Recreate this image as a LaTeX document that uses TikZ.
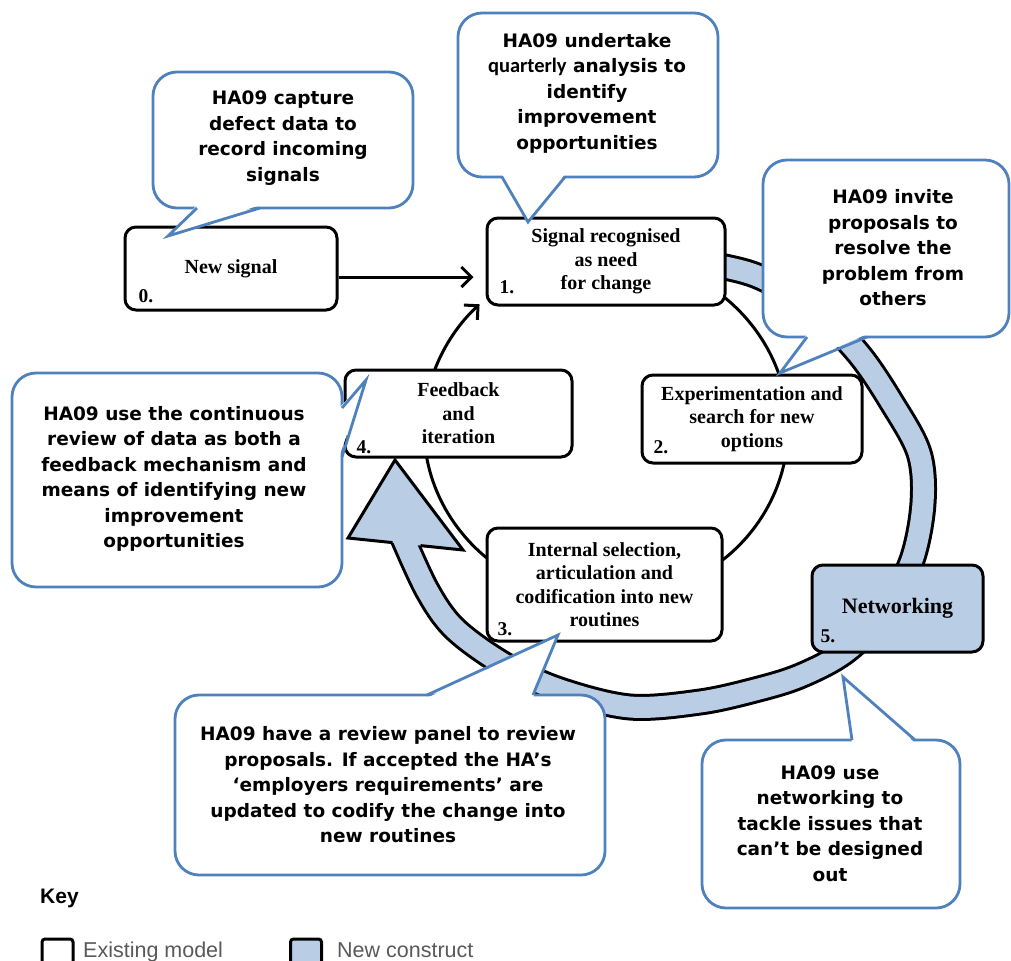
\documentclass[tikz,border=0pt]{standalone}
\usepackage{fontspec}
\setmainfont{Liberation Serif}
\newfontfamily\callfont{DejaVu Sans}
\newfontfamily\qfont{Carlito}
\newfontfamily\keyfont{Liberation Sans}
\usetikzlibrary{arrows.meta,calc}
\definecolor{callblue}{RGB}{79,129,189}
\definecolor{bandblue}{RGB}{185,205,229}
\definecolor{keygray}{RGB}{89,89,89}

\begin{document}
\begin{tikzpicture}[x=1bp,y=-1bp,
  stage/.style={draw=black, line width=3bp, fill=white, rounded corners=11bp,
    inner sep=0pt, align=center, font=\bfseries\fontsize{20bp}{23.5bp}\selectfont},
  newstage/.style={stage, fill=bandblue, font=\bfseries\fontsize{22bp}{23.5bp}\selectfont},
  num/.style={inner sep=0pt, font=\bfseries\fontsize{19.5bp}{19.5bp}\selectfont},
  bubble/.style={draw=callblue, line width=2.8bp, fill=white, rounded corners=24bp, inner sep=0pt},
  bubbletext/.style={inner sep=0pt, align=center,
    font=\callfont\bfseries\fontsize{18.5bp}{25.5bp}\selectfont},
  pointer/.style={draw=callblue, line width=2.8bp, line join=miter, miter limit=20},
  conn/.style={draw=black, line width=3bp, -{Straight Barb[length=10bp,width=20bp]}},
  cycleline/.style={draw=black, line width=3bp},
  band/.style={draw=black, line width=3bp, double=bandblue, double distance=21bp, line cap=butt},
  keytext/.style={anchor=base west, inner sep=0pt, text=keygray,
    font=\keyfont\fontsize{21.5bp}{21.5bp}\selectfont},
  keybox/.style={draw=black, line width=3bp, rounded corners=3bp,
    minimum width=31bp, minimum height=31bp, inner sep=0pt},
]
\useasboundingbox (0,0) rectangle (1011,961);
\clip (0,0) rectangle (1011,961);

% inner cycle of the existing model
\coordinate (cc) at (606,428);
\draw[cycleline] ($(cc)+(235:182 and 172)$)
  arc[start angle=235, end angle=560, x radius=182, y radius=172];
\draw[conn] ($(cc)+(200:182 and 172)$)
  arc[start angle=200, end angle=226, x radius=182, y radius=172];

% outer networking loop (new construct)
\draw[band] plot[smooth, tension=0.55] coordinates {
  (690,262) (725,267) (762,278) (812,307) (858,353) (892,403) (919,453)
  (923,503) (912,560) (885,612) (845,652) (800,676) (755,690) (700,702)
  (630,707) (560,690) (505,665) (455,629) (427,590) (400,531)};
\fill[bandblue] (348,538) -- (395,460) -- (463,550) -- cycle;
\draw[black, line width=3bp, line join=miter]
  (392.5,542.6) -- (348,538) -- (395,460) -- (463,550) -- (420.5,545.6);

% stages
\node[stage, minimum width=212bp, minimum height=83bp] (s0) at (231,268.5) {New signal};
\node[stage, minimum width=238bp, minimum height=87bp] (s1) at (606,261.5)
  {Signal recognised\\as need\\for change};
\node[stage, minimum width=220bp, minimum height=88bp] (s2) at (752,419)
  {Experimentation and\\search for new\\options};
\node[stage, minimum width=235bp, minimum height=113bp] (s3) at (604.5,584.5)
  {Internal selection,\\articulation and\\codification into new\\routines};
\node[stage, minimum width=227bp, minimum height=87bp] (s4) at (458.5,413.5)
  {Feedback\\and\\iteration};
\node[newstage, minimum width=171bp, minimum height=87bp] (s5) at (897.5,608.5) {Networking};

\node[num] (n0) at (146,296) {0.};
\node[num] (n1) at (507,287) {1.};
\node[num] (n2) at (661,447) {2.};
\node[num] (n3) at (505,629) {3.};
\node[num] (n4) at (364,447) {4.};
\node[num] (n5) at (828,636) {5.};

\draw[conn, shorten >=12bp] ([yshift=-8.5bp]s0.east) -- ([yshift=-8.5bp]s0.east -| s1.west);

% callouts
\node[bubble, minimum width=260bp, minimum height=136bp] (b0) at (283,140) {};
\fill[white] (197,205) -- (168,236) -- (260,205) -- cycle;
\draw[pointer] (197,208) -- (168,236) -- (260,208);
\node[bubbletext] (t0) at (283,138) {HA09 capture\\defect data to\\record incoming\\signals};

\node[bubble, minimum width=260bp, minimum height=164bp] (b1) at (588,95) {};
\fill[white] (502,174) -- (528,222) -- (565,174) -- cycle;
\draw[pointer] (502,177) -- (528,222) -- (565,177);
\node[bubbletext] (t1) at (587,93) {HA09 undertake\\{\qfont\bfseries\fontsize{20.5bp}{25.5bp}\selectfont quarterly} analysis to\\identify\\improvement\\opportunities};

\node[bubble, minimum width=246bp, minimum height=177bp] (b2) at (886,248.5) {};
\fill[white] (807,334) -- (780,373) -- (867,334) -- cycle;
\draw[pointer] (807,337) -- (780,373) -- (867,337);
\node[bubbletext] (t2) at (893,248) {HA09 invite\\proposals to\\resolve the\\problem from\\others};

\node[bubble, minimum width=330bp, minimum height=214bp] (b4) at (177,480) {};
\fill[white] (339,408) -- (366,380) -- (339,457) -- cycle;
\draw[pointer] (342,408) -- (366,380) -- (342,457);
\node[bubbletext] (t4) at (174,479) {HA09 use the continuous\\review of data as both a\\feedback mechanism and\\means of identifying new\\improvement\\opportunities};

\node[bubble, minimum width=430bp, minimum height=180bp] (b3) at (390,785) {};
\fill[white] (427,698) -- (558,635) -- (533,698) -- cycle;
\draw[pointer] (427,695) -- (558,635) -- (533,695);
\node[bubbletext] (t3) at (388,785) {HA09 have a review panel to review\\proposals. If accepted the HA’s\\‘employers requirements’ are\\updated to codify the change into\\new routines};

\node[bubble, minimum width=258bp, minimum height=168bp] (b5) at (831,824) {};
\fill[white] (852,743) -- (843,677) -- (915,743) -- cycle;
\draw[pointer] (852,740) -- (843,677) -- (915,740);
\node[bubbletext] (t5) at (830,823.5) {HA09 use\\networking to\\tackle issues that\\can’t be designed\\out};

% key
\node[anchor=base west, inner sep=0pt, font=\keyfont\bfseries\fontsize{21bp}{21bp}\selectfont] (key) at (40,903) {Key};
\node[keybox] (k1) at (57.5,954.5) {};
\node[keytext] (k1t) at (83,957) {Existing model};
\node[keybox, fill=bandblue] (k2) at (306,954.5) {};
\node[keytext] (k2t) at (337,957) {New construct};
\end{tikzpicture}
\end{document}
